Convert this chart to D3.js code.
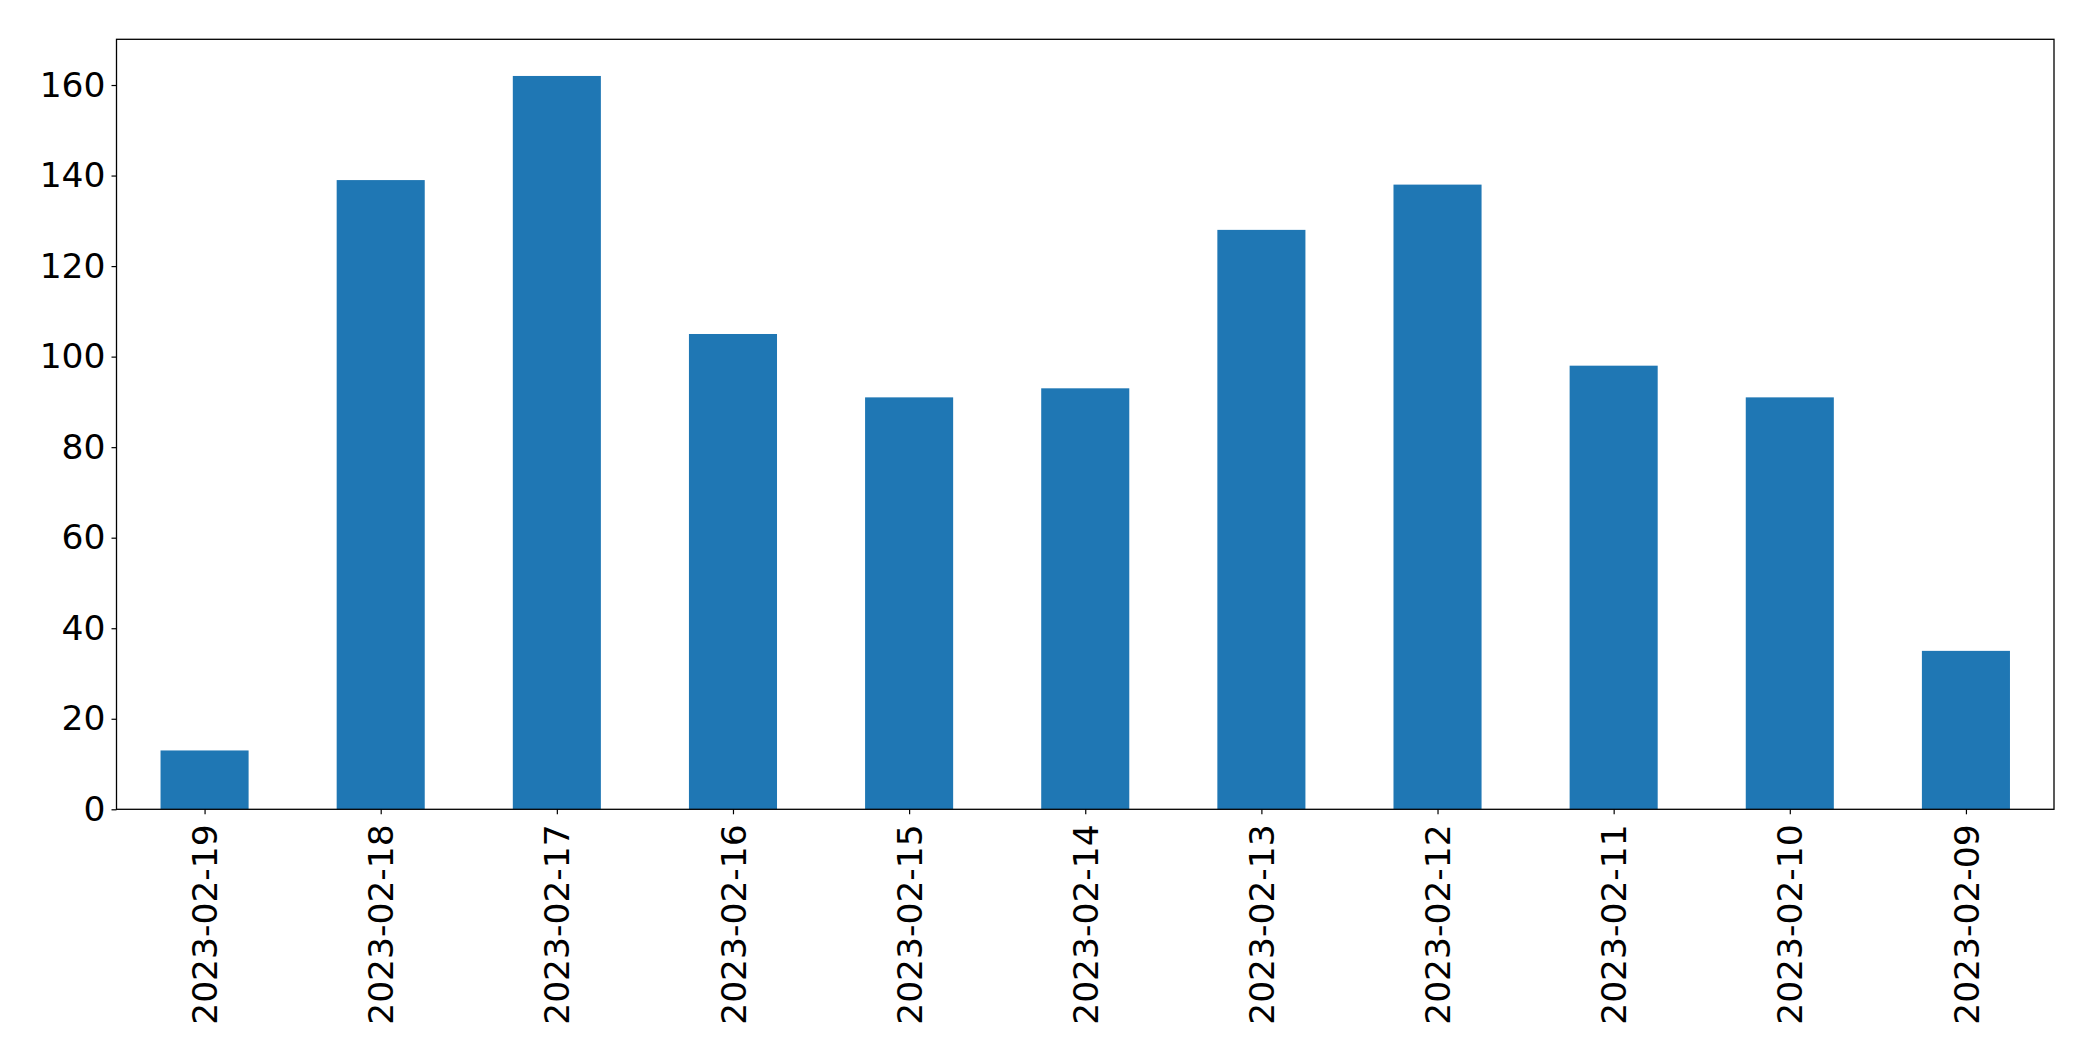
<!DOCTYPE html>
<html><head><meta charset="utf-8">
<script src="https://cdn.jsdelivr.net/npm/d3@7"></script>
<style>body{margin:0;background:#fff}svg{display:block}</style>
</head><body>
<script>
const categories = ["2023-02-19","2023-02-18","2023-02-17","2023-02-16","2023-02-15","2023-02-14","2023-02-13","2023-02-12","2023-02-11","2023-02-10","2023-02-09"];
const values = [13,139,162,105,91,93,128,138,98,91,35];
const yTicks = [0,20,40,60,80,100,120,140,160];

const W = 2093, H = 1061;
const m = {left:116.5, right:2054, top:39.3, bottom:809.3};
const svg = d3.select("body").append("svg").attr("width",W).attr("height",H);

const x = d3.scaleLinear().domain([-0.5, categories.length-0.5]).range([m.left, m.right]);
const y = d3.scaleLinear().domain([0, d3.max(values)*1.05]).range([m.bottom, m.top]);
const bw = x(0.5)-x(0);

svg.append("g").selectAll("rect").data(values).join("rect")
  .attr("x",(d,i)=>x(i)-bw/2).attr("width",bw)
  .attr("y",d=>y(d)).attr("height",d=>y(0)-y(d))
  .attr("fill","#1f77b4");

const font = "DejaVu Sans, sans-serif";
const yAxis = svg.append("g").attr("transform",`translate(${m.left},0)`)
  .call(d3.axisLeft(y).tickValues(yTicks).tickSize(5).tickPadding(6));
const xAxis = svg.append("g").attr("transform",`translate(0,${m.bottom})`)
  .call(d3.axisBottom(x).tickValues(d3.range(categories.length)).tickFormat(i=>categories[i]).tickSize(5));
[yAxis,xAxis].forEach(g=>{
  g.select(".domain").remove();
  g.selectAll("line").attr("stroke","#000").attr("stroke-width",1.2);
  g.selectAll("text").attr("font-family",font).attr("font-size",34.5).attr("fill","#000");
});
xAxis.selectAll("text")
  .attr("transform","rotate(-90)")
  .attr("text-anchor","end")
  .attr("x",-15).attr("y",0).attr("dy","0.35em");

svg.append("rect").attr("x",m.left).attr("y",m.top)
  .attr("width",m.right-m.left).attr("height",m.bottom-m.top)
  .attr("fill","none").attr("stroke","#000").attr("stroke-width",1.3);
</script>
</body></html>
